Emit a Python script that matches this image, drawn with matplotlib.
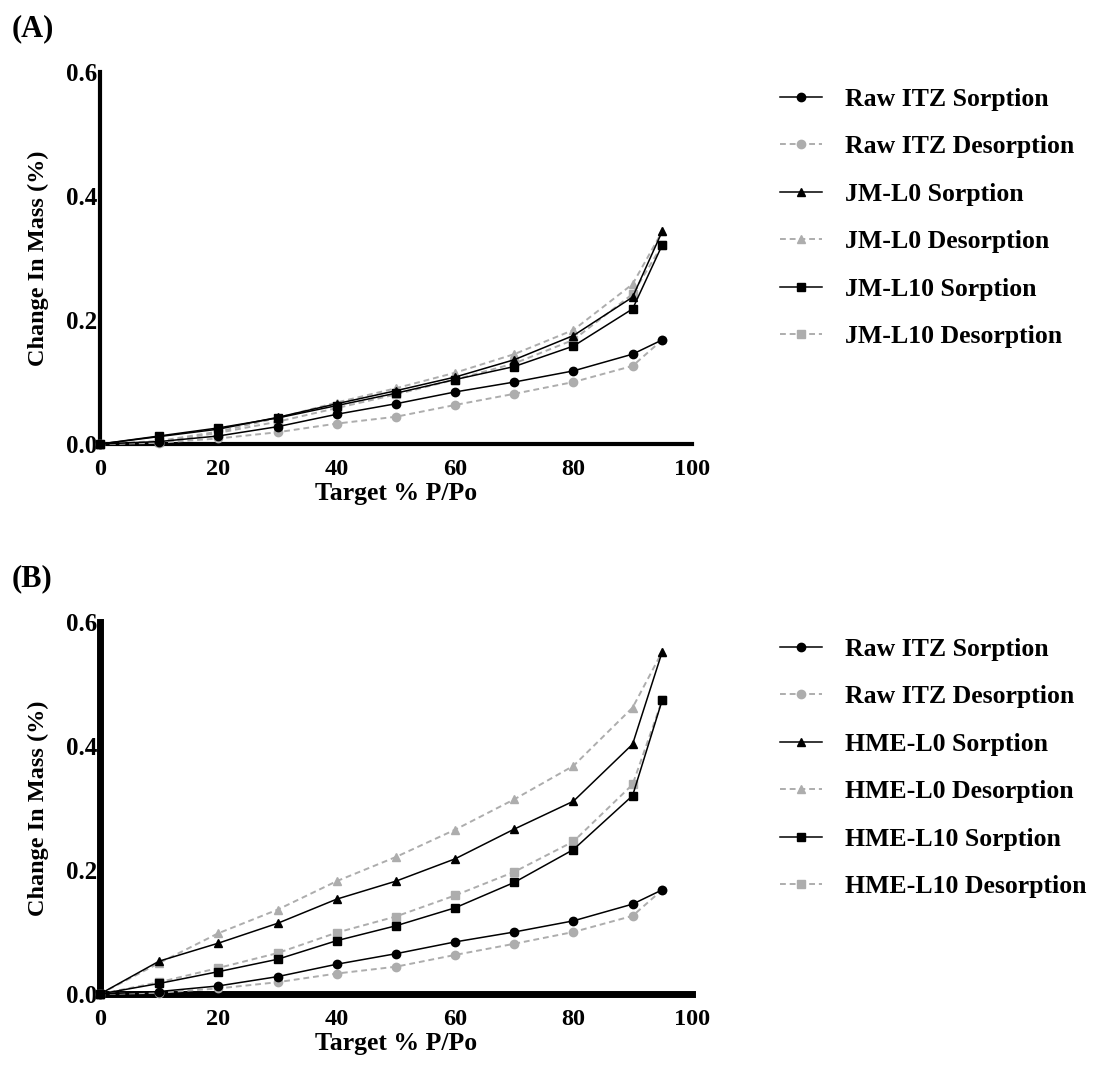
import matplotlib
matplotlib.use('Agg')
import matplotlib.pyplot as plt

plt.rcParams['font.family'] = ['Liberation Serif', 'DejaVu Serif']
plt.rcParams['font.weight'] = 'bold'

rh = [0, 10, 20, 30, 40, 50, 60, 70, 80, 90, 95]

# Raw ITZ (same in both panels)
raw_sorp = [0, 0.004, 0.013, 0.028, 0.048, 0.065, 0.084, 0.100, 0.118, 0.145, 0.168]
raw_desorp = [0, 0.002, 0.009, 0.019, 0.033, 0.044, 0.063, 0.081, 0.100, 0.126, 0.168]

# panel A
jm_l0_sorp = [0, 0.012, 0.024, 0.043, 0.065, 0.086, 0.108, 0.136, 0.175, 0.237, 0.343]
jm_l0_desorp = [0, 0.005, 0.020, 0.042, 0.067, 0.090, 0.115, 0.145, 0.184, 0.258, 0.343]
jm_l10_sorp = [0, 0.013, 0.026, 0.042, 0.062, 0.082, 0.104, 0.125, 0.158, 0.218, 0.321]
jm_l10_desorp = [0, 0.003, 0.018, 0.036, 0.058, 0.080, 0.104, 0.130, 0.168, 0.242, 0.321]

# panel B
hme_l0_sorp = [0, 0.053, 0.082, 0.114, 0.153, 0.182, 0.218, 0.266, 0.311, 0.403, 0.552]
hme_l0_desorp = [0, 0.050, 0.098, 0.136, 0.182, 0.221, 0.265, 0.314, 0.368, 0.462, 0.552]
hme_l10_sorp = [0, 0.017, 0.036, 0.056, 0.086, 0.110, 0.139, 0.180, 0.233, 0.320, 0.474]
hme_l10_desorp = [0, 0.019, 0.042, 0.066, 0.099, 0.125, 0.159, 0.197, 0.246, 0.338, 0.474]

GRAY = '#adadad'


def draw_panel(ax, series, spine_w, bottom_w, leg_top):
    for label, vals, marker, sorp in series:
        if sorp:
            ax.plot(rh, vals, color='black', lw=1.1, marker=marker, ms=6,
                    label=label, clip_on=False, zorder=4)
        else:
            ax.plot(rh, vals, color=GRAY, lw=1.4, ls=(0, (3, 2)), marker=marker,
                    ms=6, label=label, clip_on=False, zorder=3)
    ax.set_xlim(0, 100)
    ax.set_ylim(0, 0.6)
    ax.set_xticks([0, 20, 40, 60, 80, 100])
    ax.set_yticks([0.0, 0.2, 0.4, 0.6])
    ax.set_yticklabels(['0.0', '0.2', '0.4', '0.6'])
    ax.tick_params(length=0, labelsize=18)
    ax.tick_params(axis='x', pad=11, labelsize=17.5)
    ax.tick_params(axis='y', pad=2)
    for s in ['top', 'right']:
        ax.spines[s].set_visible(False)
    ax.spines['left'].set_linewidth(spine_w)
    ax.spines['bottom'].set_linewidth(bottom_w)
    ax.set_xlabel('Target % P/Po', fontsize=18.5, fontweight='bold', labelpad=1)
    ax.set_ylabel('Change In Mass (%)', fontsize=17.5, fontweight='bold', labelpad=12)
    ax.legend(loc='upper left', bbox_to_anchor=(780 / 1100, 1 - leg_top / 1071),
              bbox_transform=fig.transFigure, frameon=False,
              fontsize=18.5, handlelength=1.63, handletextpad=0.9,
              labelspacing=0.95, borderaxespad=0, borderpad=0)


fig = plt.figure(figsize=(11, 10.71), dpi=100)
axA = fig.add_axes([0.0909, 0.5854, 0.538, 0.3473])
axB = fig.add_axes([0.0909, 0.0719, 0.538, 0.3473])

draw_panel(axA, [
    ('Raw ITZ Sorption', raw_sorp, 'o', True),
    ('Raw ITZ Desorption', raw_desorp, 'o', False),
    ('JM-L0 Sorption', jm_l0_sorp, '^', True),
    ('JM-L0 Desorption', jm_l0_desorp, '^', False),
    ('JM-L10 Sorption', jm_l10_sorp, 's', True),
    ('JM-L10 Desorption', jm_l10_desorp, 's', False),
], 3, 3, 88)

draw_panel(axB, [
    ('Raw ITZ Sorption', raw_sorp, 'o', True),
    ('Raw ITZ Desorption', raw_desorp, 'o', False),
    ('HME-L0 Sorption', hme_l0_sorp, '^', True),
    ('HME-L0 Desorption', hme_l0_desorp, '^', False),
    ('HME-L10 Sorption', hme_l10_sorp, 's', True),
    ('HME-L10 Desorption', hme_l10_desorp, 's', False),
], 5, 5, 638)

fig.text(0.011, 0.973, '(A)', fontsize=22, fontweight='bold', va='center')
fig.text(0.011, 0.46, '(B)', fontsize=22, fontweight='bold', va='center')

fig.savefig('out.png', dpi=100)
